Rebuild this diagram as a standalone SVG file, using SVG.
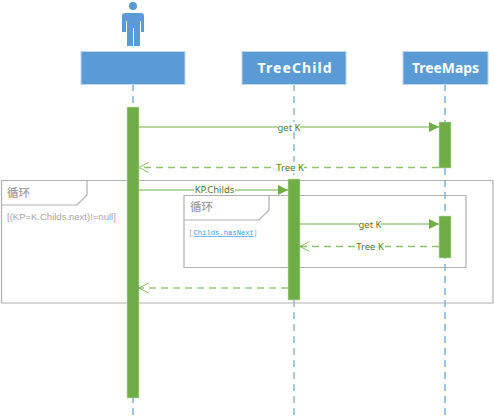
<svg xmlns="http://www.w3.org/2000/svg" width="494" height="417" viewBox="0 0 494 417">
<defs>
<marker id="solid" markerUnits="userSpaceOnUse" markerWidth="10" markerHeight="10" refX="10" refY="5" orient="auto"><path d="M0 0L10 5L0 10Z" fill="#70ad47"/></marker>
<marker id="open" markerUnits="userSpaceOnUse" markerWidth="11" markerHeight="12" refX="10.500" refY="6" orient="auto"><path d="M1 1L10.500 6L1 11" fill="none" stroke="#70ad47" stroke-width="0.8"/></marker>
</defs>
<style>
.life{stroke:#5b9bd5;stroke-width:1.2;stroke-dasharray:7 5;fill:none}
.pale{stroke:#a9c8e6;stroke-width:2}
.head{fill:#5b9bd5;stroke:#bdd7ee;stroke-width:1}
.bar{fill:#70ad47;stroke:#c5e0b4;stroke-width:.6}
.frame{fill:none;stroke:#b0b0b0;stroke-width:1.2}
.msg{fill:none;stroke:#70ad47;stroke-width:1.2}
.ret{fill:none;stroke:#8fc06e;stroke-width:1.5;stroke-dasharray:7 5}
.retp{fill:none;stroke:#b5d59f;stroke-width:2;stroke-dasharray:7 5}
text{font-family:"Liberation Sans","Noto Sans CJK SC",sans-serif}
.t{font-family:"Noto Sans","Liberation Sans",sans-serif;font-size:14px;font-weight:700;fill:#fff}
.l{font-family:"Noto Sans","Liberation Sans",sans-serif;font-size:9.500px;fill:#4f7a2c;text-anchor:middle}
.fr{font-family:"Noto Sans CJK SC",sans-serif;font-size:11.500px;font-weight:500;fill:#a0a0a0}
.g{font-size:9.500px;fill:#a6a6a6}
</style>
<g id="connectors">
<path class="life" d="M133 84V416"/>
<path class="life pale" d="M294 84V416"/>
<path class="life" d="M445 84V416"/>
</g>
<g id="actor">
<circle cx="133" cy="6" r="4" fill="#5b9bd5"/>
<path fill="#5b9bd5" d="M122 16q0-3 3-3h16q3 0 3 3v16h-3V21h-1v25h-6V28h-1v18h-6V21h-1v11h-4z"/>
<rect class="head" x="81" y="51.500" width="104" height="33"/>
</g>
<g id="treechild">
<rect class="head" x="242" y="51.500" width="104" height="33"/>
<text class="t" x="257.500" y="73" textLength="74" lengthAdjust="spacing">TreeChild</text>
</g>
<g id="treemaps">
<rect class="head" x="403" y="51.500" width="85" height="33"/>
<text class="t" x="412" y="73" textLength="67" lengthAdjust="spacingAndGlyphs">TreeMaps</text>
</g>
<g id="frames">
<path class="frame" d="M1.500 180.500H493V303H1.500Z"/>
<path class="frame" d="M1.500 205H77L87 195V180.500"/>
<path class="frame" d="M184 195.500H466V267.500H184Z"/>
<path class="frame" d="M184 220H259L269 210V195.500"/>
<text class="fr" x="7" y="197">循环</text>
<text class="fr" x="190" y="211">循环</text>
<text class="g" x="7" y="220">[(KP=K.Childs.next)!=null]</text>
<text x="189.500" y="235" font-size="7.500" fill="#a6a6a6">[</text>
<text x="193.500" y="235" font-size="7.200" fill="#3b9be8" text-decoration="underline" style="font-family:'Liberation Mono',monospace">Childs.hasNext</text>
<text x="254.500" y="235" font-size="7.500" fill="#a6a6a6">]</text>
</g>
<g id="activations">
<rect class="bar" x="127" y="107" width="12" height="291"/>
<rect class="bar" x="439" y="122" width="12" height="46"/>
<rect class="bar" x="288" y="179" width="12" height="121"/>
<rect class="bar" x="439" y="216" width="12" height="42"/>
</g>
<g id="messages">
<path class="msg" d="M139 127H439" marker-end="url(#solid)"/>
<path class="ret" d="M439 167.500H139" marker-end="url(#open)"/>
<path class="msg" d="M139 190H288" marker-end="url(#solid)"/>
<path class="msg" d="M300 224H439" marker-end="url(#solid)"/>
<path class="ret" d="M439 246.500H300" marker-end="url(#open)"/>
<path class="retp" d="M288 288H139" marker-end="url(#open)"/>
<rect x="278" y="122" width="22" height="10" fill="#fff"/>
<text class="l" x="289" y="130.500">get K</text>
<rect x="275" y="162" width="29" height="11" fill="#fff"/>
<text class="l" x="290" y="171">Tree K</text>
<rect x="194" y="185" width="41" height="10" fill="#fff"/>
<text class="l" x="214.500" y="193">KP.Childs</text>
<rect x="359" y="219" width="22" height="10" fill="#fff"/>
<text class="l" x="370" y="227.500">get K</text>
<rect x="356" y="241" width="29" height="11" fill="#fff"/>
<text class="l" x="370" y="250">Tree K</text>
</g>
</svg>
